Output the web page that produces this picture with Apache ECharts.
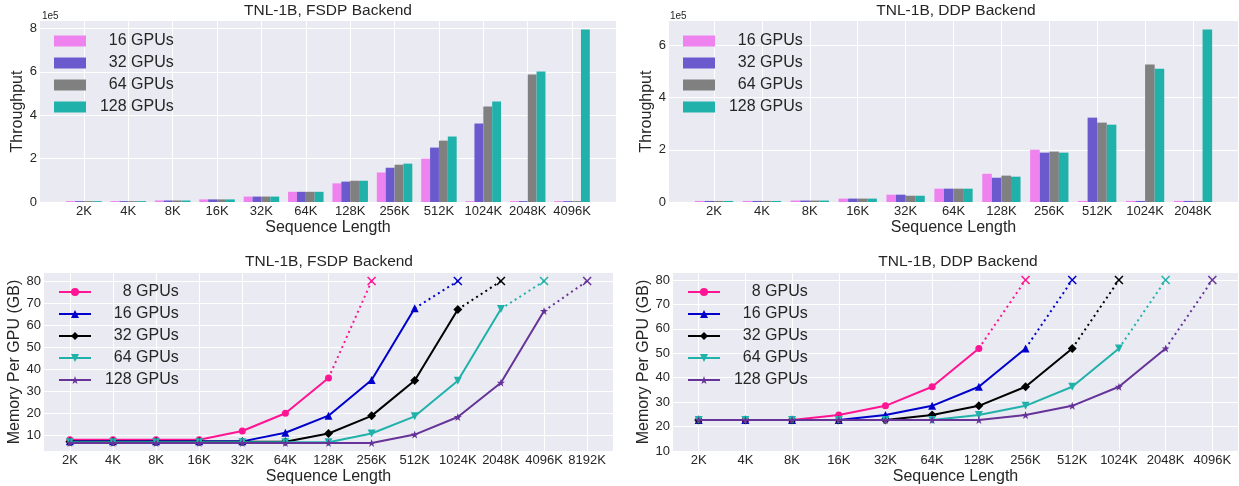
<!DOCTYPE html>
<html>
<head>
<meta charset="utf-8">
<script src="https://cdn.jsdelivr.net/npm/echarts@6/dist/echarts.min.js"></script>
<style>
  html, body { margin: 0; background: #fff; }
  #chart { width: 1239px; height: 486px; }
</style>
</head>
<body>
<div id="chart"></div>
<script>
const FONT = '"Liberation Sans", Arial, sans-serif';
const INK = '#262626';
const PANEL = '#eaeaf2';

// sequence lengths per panel
const seqFsdpThr = ['2K', '4K', '8K', '16K', '32K', '64K', '128K', '256K', '512K', '1024K', '2048K', '4096K'];
const seqDdpThr = ['2K', '4K', '8K', '16K', '32K', '64K', '128K', '256K', '512K', '1024K', '2048K'];
const seqFsdpMem = ['2K', '4K', '8K', '16K', '32K', '64K', '128K', '256K', '512K', '1024K', '2048K', '4096K', '8192K'];
const seqDdpMem = ['2K', '4K', '8K', '16K', '32K', '64K', '128K', '256K', '512K', '1024K', '2048K', '4096K'];

// throughput panels
const barGpus = ['16 GPUs', '32 GPUs', '64 GPUs', '128 GPUs'];
const barColors = ['#ee82ee', '#6a5acd', '#808080', '#20b2aa'];
// OOM runs show up as a tiny stub
const fsdpThr16 = [4000, 4000, 7000, 12000, 25000, 47000, 86000, 136000, 200000, 4000, 4000, 4000];
const fsdpThr32 = [4000, 4000, 7000, 12000, 25000, 47000, 94000, 158000, 251000, 362000, 4000, 4000];
const fsdpThr64 = [4000, 4000, 7000, 12000, 25000, 47000, 98000, 172000, 283000, 440000, 588000, 4000];
const fsdpThr128 = [4000, 4000, 7000, 12000, 25000, 47000, 98000, 177000, 302000, 463000, 602000, 795000];
const ddpThr16 = [4000, 4000, 5500, 13000, 28000, 51000, 108000, 200000, 4000, 4000, 4000];
const ddpThr32 = [4000, 4000, 5500, 13000, 28000, 51000, 93000, 189000, 323000, 4000, 4000];
const ddpThr64 = [4000, 4000, 5500, 13000, 24000, 51000, 101000, 193000, 304000, 526000, 4000];
const ddpThr128 = [4000, 4000, 5500, 13000, 24000, 51000, 97000, 189000, 296000, 510000, 660000];
const thrTicksFsdp = [0, 2, 4, 6, 8];   // x 1e5
const thrTicksDdp = [0, 2, 4, 6];

// memory panels; last value of every array is the OOM point (80 GB cap)
const lineGpus = ['8 GPUs', '16 GPUs', '32 GPUs', '64 GPUs', '128 GPUs'];
const lineColors = ['#ff1493', '#0000cd', '#000000', '#20b2aa', '#663399'];
const fsdpMem8 = [7.8, 7.8, 7.8, 7.8, 11.8, 19.9, 35.9, 80];
const fsdpMem16 = [7.1, 7.1, 7.1, 7.1, 7.1, 11.0, 18.8, 35.0, 67.6, 80];
const fsdpMem32 = [6.9, 6.9, 6.9, 6.9, 6.9, 6.9, 10.7, 18.7, 34.8, 67.1, 80];
const fsdpMem64 = [6.7, 6.7, 6.7, 6.7, 6.7, 6.7, 6.7, 10.7, 18.5, 34.7, 67.3, 80];
const fsdpMem128 = [6.4, 6.4, 6.4, 6.4, 6.4, 6.4, 6.4, 6.4, 10.2, 18.2, 33.8, 66.4, 80];
const ddpMem8 = [22.7, 22.7, 22.7, 24.7, 28.5, 36.3, 52.0, 80];
const ddpMem16 = [22.7, 22.7, 22.7, 22.7, 24.7, 28.5, 36.3, 52.0, 80];
const ddpMem32 = [22.7, 22.7, 22.7, 22.7, 22.7, 24.7, 28.5, 36.3, 52.0, 80];
const ddpMem64 = [22.7, 22.7, 22.7, 22.7, 22.7, 22.7, 24.7, 28.5, 36.3, 52.0, 80];
const ddpMem128 = [22.7, 22.7, 22.7, 22.7, 22.7, 22.7, 22.7, 24.7, 28.5, 36.3, 52.0, 80];
const memTicks = [10, 20, 30, 40, 50, 60, 70, 80];

const STAR = 'path://M0,-10L2.35,-3.24L9.51,-3.09L3.8,1.24L5.88,8.09L0,4L-5.88,8.09L-3.8,1.24L-9.51,-3.09L-2.35,-3.24Z';
const CROSS = 'path://M0,0L10,10M10,0L0,10';
const marks = [
  { symbol: 'circle', size: 7, rotate: 0 },
  { symbol: 'triangle', size: 8, rotate: 0 },
  { symbol: 'diamond', size: 9, rotate: 0 },
  { symbol: 'triangle', size: 8, rotate: 180 },
  { symbol: STAR, size: 8, rotate: 0 },
];

const txt = (size) => ({ color: INK, fontFamily: FONT, fontSize: size });

// right-align the legend labels like the original (space = half a digit)
const legendLabel = (name) => {
  const label = name.split('|')[0];
  const digits = label.split(' ')[0].length;
  return ' '.repeat(2 + 2 * (3 - digits)) + label;
};

function xAxisFor(gi, cats, pad) {
  const idx = cats.map((_, i) => i);
  return {
    type: 'value', gridIndex: gi,
    min: -pad, max: cats.length - 1 + pad,
    axisLine: { show: false },
    axisTick: { show: false, customValues: idx },
    axisLabel: { customValues: idx, formatter: v => cats[Math.round(v)] || '', margin: 3, ...txt(13) },
    splitLine: { show: true, lineStyle: { color: '#ffffff', width: 1 } },
    name: 'Sequence Length', nameLocation: 'middle', nameGap: 18,
    nameTextStyle: txt(16),
  };
}

function yAxisFor(gi, min, max, ticks, fmt, name, gap) {
  return {
    type: 'value', gridIndex: gi, min, max,
    axisLine: { show: false },
    axisTick: { show: false, customValues: ticks },
    axisLabel: { customValues: ticks, formatter: fmt, margin: 3, ...txt(13) },
    splitLine: { show: true, lineStyle: { color: '#ffffff', width: 1 } },
    name, nameLocation: 'middle', nameGap: gap, nameTextStyle: txt(16),
  };
}

function barSeries(gi, tag, arrays) {
  return arrays.map((vals, k) => ({
    type: 'bar', name: barGpus[k] + '|' + tag,
    xAxisIndex: gi, yAxisIndex: gi,
    data: vals.map((v, i) => [i, v]),
    barWidth: '20%', barGap: '0%',
    itemStyle: { color: barColors[k] },
  }));
}

function memSeries(gi, tag, arrays) {
  const out = [];
  arrays.forEach((vals, k) => {
    const pts = vals.map((v, i) => [i, v]);
    const last = pts.length - 1;
    const c = lineColors[k];
    out.push({
      type: 'line', name: lineGpus[k] + '|' + tag,
      xAxisIndex: gi, yAxisIndex: gi,
      data: pts.slice(0, last),
      symbol: marks[k].symbol, symbolSize: marks[k].size, symbolRotate: marks[k].rotate,
      lineStyle: { color: c, width: 2 },
      itemStyle: { color: c },
      z: 3 + k,
    });
    out.push({
      type: 'line', name: lineGpus[k] + '|' + tag + '-oom',
      xAxisIndex: gi, yAxisIndex: gi,
      data: pts.slice(last - 1),
      symbol: (v, p) => (p.dataIndex === 1 ? CROSS : 'none'),
      symbolSize: 8,
      lineStyle: { color: c, width: 2, type: [2, 3.5] },
      itemStyle: { color: 'none', borderColor: c, borderWidth: 1.5 },
      z: 3 + k,
    });
  });
  return out;
}

function legendFor(left, top, tag, names, isBar) {
  return {
    left, top, orient: 'vertical', padding: 0,
    itemWidth: 32, itemHeight: isBar ? 11 : 10, itemGap: 4,
    icon: isBar ? 'rect' : undefined,
    selectedMode: false,
    data: names.map(n => n + '|' + tag),
    formatter: legendLabel,
    textStyle: { ...txt(16), lineHeight: 18 },
  };
}

const barPad = n => 0.4 + 0.05 * (n - 0.2);
const linePad = n => 0.05 * (n - 1);
const thrFmt = v => String(v / 1e5);

const chart = echarts.init(document.getElementById('chart'), null, { renderer: 'canvas' });
chart.setOption({
  animation: false,
  backgroundColor: '#ffffff',
  title: [
    { text: 'TNL-1B, FSDP Backend', left: 328, top: 3 },
    { text: 'TNL-1B, DDP Backend', left: 956, top: 3 },
    { text: 'TNL-1B, FSDP Backend', left: 329, top: 254 },
    { text: 'TNL-1B, DDP Backend', left: 958, top: 254 },
  ].map(t => ({ ...t, textAlign: 'center', padding: 0, textStyle: { ...txt(15.5), fontWeight: 'normal' } })),
  grid: [
    { left: 40, top: 21, width: 576, height: 181 },
    { left: 669, top: 21, width: 569, height: 181 },
    { left: 44, top: 273, width: 569, height: 182 },
    { left: 673, top: 273, width: 565, height: 181 },
  ].map(g => ({ ...g, show: true, backgroundColor: PANEL, borderWidth: 0 })),
  xAxis: [
    xAxisFor(0, seqFsdpThr, barPad(seqFsdpThr.length)),
    xAxisFor(1, seqDdpThr, barPad(seqDdpThr.length)),
    xAxisFor(2, seqFsdpMem, linePad(seqFsdpMem.length)),
    xAxisFor(3, seqDdpMem, linePad(seqDdpMem.length)),
  ],
  yAxis: [
    yAxisFor(0, 0, Math.max(...fsdpThr128) * 1.05, thrTicksFsdp.map(t => t * 1e5), thrFmt, 'Throughput', 14),
    yAxisFor(1, 0, Math.max(...ddpThr128) * 1.05, thrTicksDdp.map(t => t * 1e5), thrFmt, 'Throughput', 14),
    yAxisFor(2, 6.4 - 0.05 * (80 - 6.4), 80 + 0.05 * (80 - 6.4), memTicks, null, 'Memory Per GPU (GB)', 21),
    yAxisFor(3, 10, 80 + 0.05 * (80 - 22.7), memTicks, null, 'Memory Per GPU (GB)', 20),
  ],
  legend: [
    legendFor(54, 32, 'ft', barGpus, true),
    legendFor(683, 32, 'dt', barGpus, true),
    legendFor(58, 283, 'fm', lineGpus, false),
    legendFor(687, 283, 'dm', lineGpus, false),
  ],
  graphic: [
    { type: 'text', x: 42, y: 16, style: { text: '1e5', fill: INK, font: '10px ' + FONT, verticalAlign: 'middle' } },
    { type: 'text', x: 670, y: 16, style: { text: '1e5', fill: INK, font: '10px ' + FONT, verticalAlign: 'middle' } },
  ],
  series: [
    ...barSeries(0, 'ft', [fsdpThr16, fsdpThr32, fsdpThr64, fsdpThr128]),
    ...barSeries(1, 'dt', [ddpThr16, ddpThr32, ddpThr64, ddpThr128]),
    ...memSeries(2, 'fm', [fsdpMem8, fsdpMem16, fsdpMem32, fsdpMem64, fsdpMem128]),
    ...memSeries(3, 'dm', [ddpMem8, ddpMem16, ddpMem32, ddpMem64, ddpMem128]),
  ],
});
</script>
</body>
</html>
